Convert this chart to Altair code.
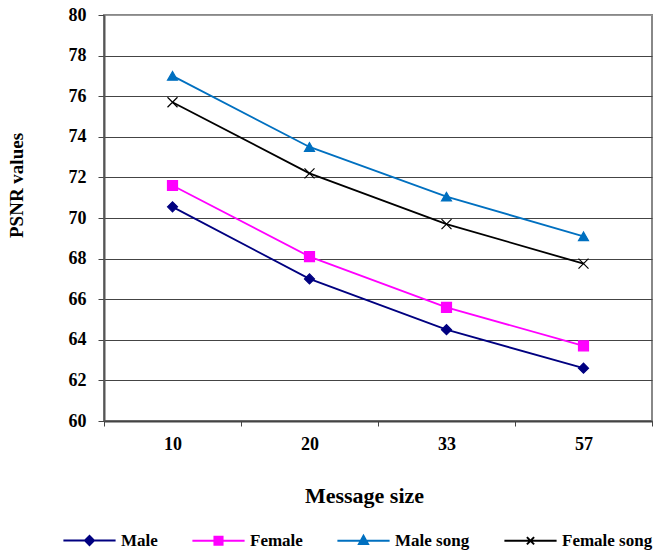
import altair as alt
import pandas as pd

# Message sizes on the x axis and PSNR readings for each audio type
message_sizes = ["10", "20", "33", "57"]
series_names = ["Male", "Female", "Male song", "Female song"]
male = [70.55, 67.0, 64.5, 62.6]
female = [71.6, 68.1, 65.6, 63.7]
male_song = [77.0, 73.5, 71.05, 69.1]
female_song = [75.7, 72.2, 69.7, 67.75]
y_ticks = list(range(60, 81, 2))

series_values = [male, female, male_song, female_song]
rows = []
for name, values in zip(series_names, series_values):
    for size, v in zip(message_sizes, values):
        rows.append({"size": size, "series": name, "psnr": v})
df = pd.DataFrame(rows)

FONT = "Liberation Serif"
colors = ["#000080", "#FF00FF", "#0070C0", "#000000"]
X_PATH = "M-1,-1L1,1M-1,1L1,-1"
marker_shapes = ["diamond", "square", "triangle-up", X_PATH]

# legend glyphs: a horizontal line segment with the marker in its middle
L = 5.8
legend_shapes = [
    f"M-{L},0L{L},0M-1,0L0,-1L1,0L0,1Z",
    f"M-{L},0L{L},0M-0.9,-0.9L0.9,-0.9L0.9,0.9L-0.9,0.9Z",
    f"M-{L},0L{L},0M0,-1.1L-1,0.7L1,0.7Z",
    f"M-{L},0L{L},0M-0.8,-0.8L0.8,0.8M-0.8,0.8L0.8,-0.8",
]

x_enc = alt.X(
    "size:N",
    sort=message_sizes,
    scale=alt.Scale(type="band", paddingInner=0, paddingOuter=0),
    axis=alt.Axis(
        title="Message size",
        tickBand="extent",
        labelAngle=0,
        grid=False,
        labelFont=FONT,
        labelFontSize=18,
        labelFontWeight="bold",
        labelColor="black",
        labelPadding=9,
        tickSize=5,
        tickColor="#444",
        domainColor="#444",
        domainWidth=2,
        titleFont=FONT,
        titleFontSize=22,
        titleFontWeight="bold",
        titleColor="black",
        titleX=260,
        titleY=74,
        titleBaseline="middle",
    ),
)

y_enc = alt.Y(
    "psnr:Q",
    scale=alt.Scale(domain=[60, 80], nice=False, zero=False),
    axis=alt.Axis(
        title="PSNR values",
        values=y_ticks,
        grid=True,
        gridColor={"condition": {"test": "datum.value === 80", "value": "#999"}, "value": "#444"},
        gridWidth=1.2,
        labelFont=FONT,
        labelFontSize=18,
        labelFontWeight="bold",
        labelColor="black",
        labelPadding=12,
        tickSize=6,
        tickColor="#444",
        domainColor="#555",
        domainWidth=2,
        titleFont=FONT,
        titleFontSize=19,
        titleFontWeight="bold",
        titleColor="black",
        titleX=-88,
        titleY=170,
        titleBaseline="middle",
    ),
)

# one line and one marker layer per series
series_layers = []
for name, color in zip(series_names, colors):
    base = alt.Chart(df).transform_filter(alt.datum.series == name)
    series_layers.append(
        base.mark_line(strokeWidth=1.8, color=color).encode(x=x_enc, y=y_enc)
    )
for name, color, shape in zip(series_names, colors, marker_shapes):
    base = alt.Chart(df).transform_filter(alt.datum.series == name)
    series_layers.append(
        base.mark_point(
            filled=True, size=100, strokeWidth=1.2, opacity=1,
            shape=shape, fill=color, stroke=color,
        ).encode(x=x_enc, y=y_enc)
    )

legend = alt.Legend(
    orient="none",
    legendX=-23,
    legendY=517,
    direction="horizontal",
    columns=4,
    title=None,
    symbolSize=81,
    symbolStrokeWidth=2,
    symbolOpacity=1,
    labelFont=FONT,
    labelFontSize=17,
    labelFontWeight="bold",
    labelColor="black",
    labelOffset=23,
    columnPadding=30,
    padding=0,
)

# zero-size layer that only carries the legend
color_scale = alt.Scale(domain=series_names, range=colors)
key = alt.Chart(df).mark_point(filled=True, size=0).encode(
    x=x_enc,
    y=y_enc,
    fill=alt.Fill("series:N", scale=color_scale, legend=legend),
    stroke=alt.Stroke("series:N", scale=color_scale, legend=legend),
    shape=alt.Shape("series:N", scale=alt.Scale(domain=series_names, range=legend_shapes), legend=legend),
)

chart = (
    alt.layer(*series_layers, key)
    .properties(
        width=548,
        height=406,
        autosize=alt.AutoSizeParams(type="none"),
        padding={"left": 104, "top": 15, "right": 2, "bottom": 133},
        background="white",
    )
    .configure_view(stroke="#888", strokeWidth=2)
)

chart.save("out.html", embed_options={"renderer": "svg", "actions": False})
